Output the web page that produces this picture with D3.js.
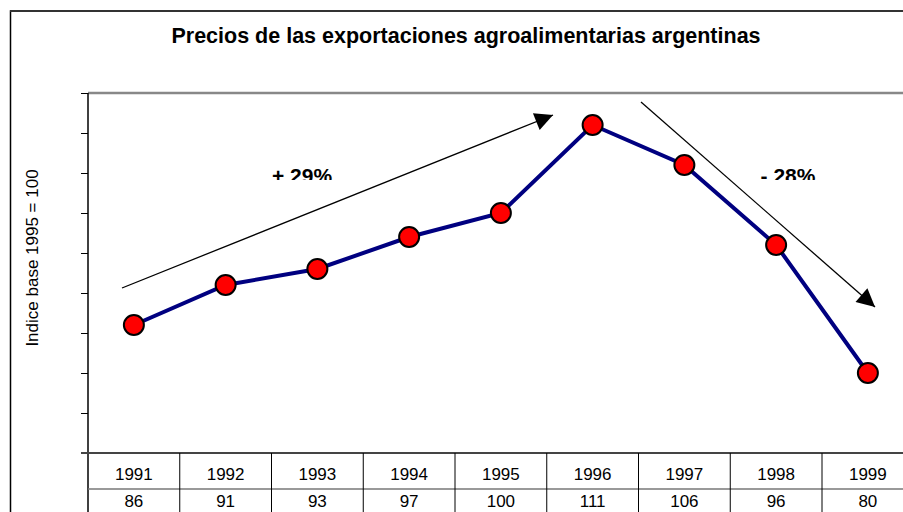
<!DOCTYPE html>
<html>
<head>
<meta charset="utf-8">
<script src="https://cdn.jsdelivr.net/npm/d3@7"></script>
<style>
  body { margin: 0; background: #fff; }
  svg { display: block; font-family: "Liberation Sans", Arial, sans-serif; }
</style>
</head>
<body>
<div id="chart"></div>
<script>
// data
const years = ["1991", "1992", "1993", "1994", "1995", "1996", "1997", "1998", "1999"];
const values = [86, 91, 93, 97, 100, 111, 106, 96, 80];
const yDomain = [70, 115];
const yTicks = [70, 75, 80, 85, 90, 95, 100, 105, 110, 115];

const W = 903, H = 512;
const svg = d3.select("#chart").append("svg")
  .attr("width", W)
  .attr("height", H);

// outer frame (runs off the right / bottom edge)
svg.append("rect")
  .attr("x", 10.5).attr("y", 11)
  .attr("width", 1000).attr("height", 600)
  .attr("fill", "#fff")
  .attr("stroke", "#000").attr("stroke-width", 1.5);
svg.append("line")
  .attr("x1", 10).attr("x2", W).attr("y1", 11).attr("y2", 11)
  .attr("stroke", "#333").attr("stroke-width", 2);

svg.append("text")
  .attr("x", 466).attr("y", 43)
  .attr("text-anchor", "middle")
  .style("font-size", "21.5px").style("font-weight", "bold")
  .text("Precios de las exportaciones agroalimentarias argentinas");

// plot area
var margin = {top: 93, left: 88};
var colW = 91.75;
var plotW = colW * years.length, plotH = 360;

var g = svg.append("g")
  .attr("transform", "translate(" + margin.left + "," + margin.top + ")");

var x = d3.scaleBand().domain(years).range([0, plotW]);
var y = d3.scaleLinear().domain(yDomain).range([plotH, 0]);

// top border of plot (gray)
g.append("line")
  .attr("x1", 0).attr("x2", plotW).attr("y1", 0).attr("y2", 0)
  .attr("stroke", "#888").attr("stroke-width", 2.5);

// left axis, ticks only
var yAxis = g.append("g")
  .call(d3.axisLeft(y).tickValues(yTicks).tickSize(7).tickFormat(""));
yAxis.select(".domain").remove();
yAxis.selectAll("line").attr("stroke", "#000").attr("stroke-width", 1);
g.append("line")
  .attr("x1", 0).attr("x2", 0).attr("y1", 0).attr("y2", plotH + 80)
  .attr("stroke", "#000").attr("stroke-width", 1.5);

svg.append("text")
  .attr("transform", "translate(38,258) rotate(-90)")
  .attr("text-anchor", "middle")
  .style("font-size", "17px")
  .text("Indice base 1995 = 100");

// trend arrows
svg.append("defs").append("marker")
  .attr("id", "head")
  .attr("viewBox", "0 0 10 10")
  .attr("refX", 10).attr("refY", 5)
  .attr("markerWidth", 22).attr("markerHeight", 18)
  .attr("markerUnits", "userSpaceOnUse")
  .attr("orient", "auto")
  .append("path").attr("d", "M0,0 L10,5 L0,10 z").attr("fill", "#000");

var arrows = [
  {x1: 122, y1: 288, x2: 553, y2: 115},
  {x1: 641, y1: 102, x2: 875, y2: 307}
];
svg.selectAll("line.arrow")
  .data(arrows)
  .enter()
  .append("line")
    .attr("class", "arrow")
    .attr("x1", function(d) { return d.x1; })
    .attr("y1", function(d) { return d.y1; })
    .attr("x2", function(d) { return d.x2; })
    .attr("y2", function(d) { return d.y2; })
    .attr("stroke", "#000").attr("stroke-width", 1.3)
    .attr("marker-end", "url(#head)");

// change labels, clipped at the bottom like the original text boxes
var pcts = [{t: "+ 29%", x: 302}, {t: "- 28%", x: 788}];
svg.select("defs").append("clipPath").attr("id", "lblclip")
  .append("rect").attr("x", 0).attr("y", 150).attr("width", W).attr("height", 30);
svg.selectAll("text.pct")
  .data(pcts)
  .enter()
  .append("text")
    .attr("class", "pct")
    .attr("x", function(d) { return d.x; })
    .attr("y", 183)
    .attr("text-anchor", "middle")
    .attr("clip-path", "url(#lblclip)")
    .style("font-size", "21px").style("font-weight", "bold")
    .text(function(d) { return d.t; });

// series line + markers
var line = d3.line()
  .x(function(d, i) { return x(years[i]) + x.bandwidth() / 2; })
  .y(function(d) { return y(d); });

g.append("path")
  .datum(values)
  .attr("d", line)
  .attr("fill", "none")
  .attr("stroke", "#000080")
  .attr("stroke-width", 4);

g.selectAll("circle.pt")
  .data(values)
  .enter()
  .append("circle")
    .attr("class", "pt")
    .attr("cx", function(d, i) { return x(years[i]) + x.bandwidth() / 2; })
    .attr("cy", function(d) { return y(d); })
    .attr("r", 10)
    .attr("fill", "#ff0000")
    .attr("stroke", "#000")
    .attr("stroke-width", 2);

// data table
var rowH = 36;
var table = g.append("g").attr("transform", "translate(0," + plotH + ")");
table.append("line")
  .attr("x1", -7).attr("x2", plotW).attr("y1", 0).attr("y2", 0)
  .attr("stroke", "#444").attr("stroke-width", 2);
table.append("line")
  .attr("x1", 0).attr("x2", plotW).attr("y1", rowH).attr("y2", rowH)
  .attr("stroke", "#777").attr("stroke-width", 1.5);
table.selectAll("line.col")
  .data(years)
  .enter()
  .append("line")
    .attr("class", "col")
    .attr("x1", function(d) { return x(d) + x.bandwidth(); })
    .attr("x2", function(d) { return x(d) + x.bandwidth(); })
    .attr("y1", 0).attr("y2", 100)
    .attr("stroke", "#000").attr("stroke-width", 1);
table.selectAll("text.yr")
  .data(years)
  .enter()
  .append("text")
    .attr("class", "yr")
    .attr("x", function(d) { return x(d) + x.bandwidth() / 2; })
    .attr("y", 27)
    .attr("text-anchor", "middle")
    .style("font-size", "17px")
    .text(function(d) { return d; });
table.selectAll("text.val")
  .data(values)
  .enter()
  .append("text")
    .attr("class", "val")
    .attr("x", function(d, i) { return x(years[i]) + x.bandwidth() / 2; })
    .attr("y", 54)
    .attr("text-anchor", "middle")
    .style("font-size", "17px")
    .text(function(d) { return d; });
</script>
</body>
</html>
